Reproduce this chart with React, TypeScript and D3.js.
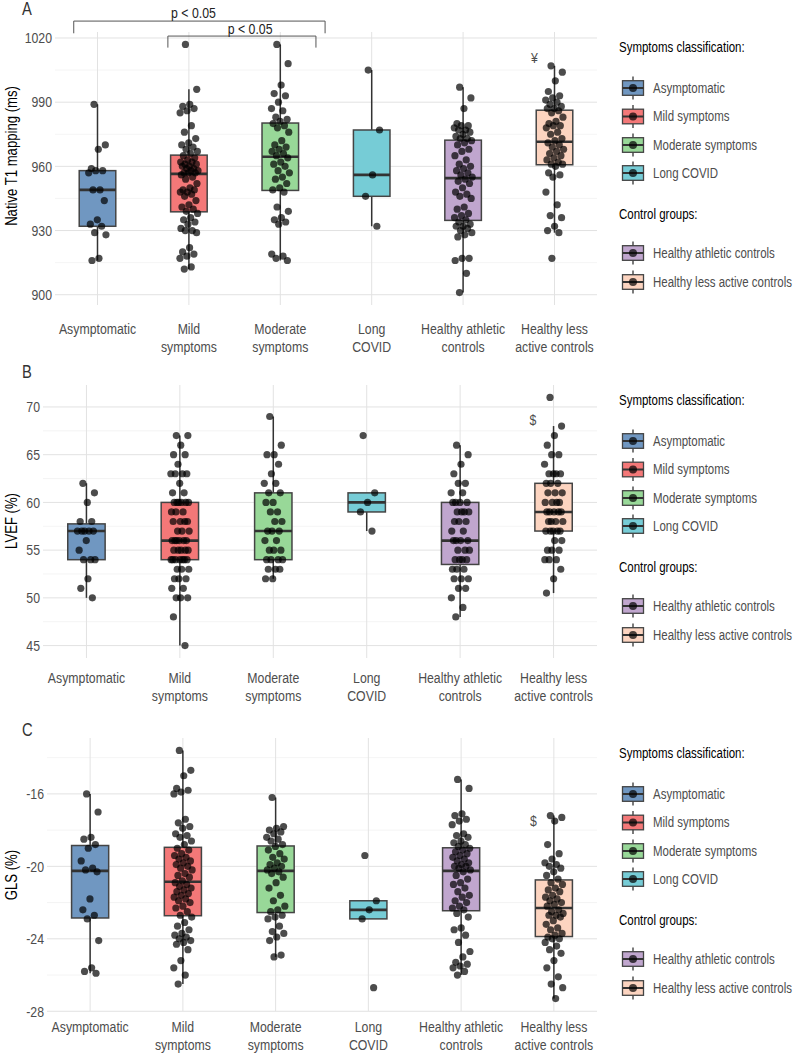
import React from "react";
import * as d3 from "d3";

// ---------- categories ----------
const groups = [
  "Asymptomatic",
  "Mild symptoms",
  "Moderate symptoms",
  "Long COVID",
  "Healthy athletic controls",
  "Healthy less active controls",
];
const groupAxisLines = [
  ["Asymptomatic"],
  ["Mild", "symptoms"],
  ["Moderate", "symptoms"],
  ["Long", "COVID"],
  ["Healthy athletic", "controls"],
  ["Healthy less", "active controls"],
];
const groupColors = ["#7097C1", "#F47878", "#98D898", "#76CCD6", "#C0A6CE", "#FCD4C0"];
const symptomGroups = [0, 1, 2, 3];
const controlGroups = [4, 5];

// ---------- Panel A: Native T1 mapping (ms) ----------
const t1Asymptomatic = [989, 970, 968, 959, 958, 958, 957, 949, 949, 944, 935, 933, 932, 929, 928, 917, 916];
const t1Mild = [1017, 996, 989, 988, 987, 986, 985, 979, 976, 973, 971, 970, 969, 968, 967, 966, 965, 964, 963, 962, 962, 961, 961, 960, 960, 959, 959, 958, 958, 957, 957, 957, 956, 955, 954, 952, 950, 949, 949, 948, 948, 947, 946, 944, 942, 941, 940, 939, 938, 936, 935, 934, 933, 931, 930, 930, 929, 922, 920, 919, 918, 917, 913, 912];
const t1Moderate = [1017, 1008, 998, 994, 993, 990, 987, 986, 983, 982, 981, 980, 979, 978, 976, 972, 970, 969, 968, 967, 966, 965, 964, 962, 961, 960, 958, 957, 955, 954, 952, 950, 949, 948, 941, 939, 936, 935, 934, 933, 919, 918, 917, 916];
const t1LongCovid = [1005, 977, 956, 946, 932];
const t1Athletic = [997, 992, 987, 980, 979, 979, 978, 977, 977, 976, 975, 974, 973, 973, 972, 971, 970, 968, 967, 965, 963, 961, 960, 959, 958, 957, 956, 955, 954, 953, 952, 950, 948, 947, 946, 945, 941, 940, 938, 937, 936, 935, 934, 933, 932, 932, 931, 930, 929, 928, 927, 917, 917, 916, 910, 901];
const t1LessActive = [1007, 1004, 1000, 995, 993, 992, 991, 990, 989, 988, 987, 987, 986, 985, 983, 981, 980, 979, 979, 978, 976, 975, 973, 972, 971, 970, 969, 968, 967, 966, 965, 964, 963, 962, 961, 961, 960, 957, 956, 955, 948, 942, 937, 936, 932, 930, 929, 917];
const t1Ticks = [900, 930, 960, 990, 1020];
const t1Minor = [915, 945, 975, 1005];

// ---------- Panel B: LVEF (%) ----------
const lvefAsymptomatic = [62, 61, 60, 58, 58, 57, 57, 57, 57, 57, 56, 55, 54, 54, 54, 52, 51, 50];
const lvefMild = [67, 67, 66, 65, 65, 64, 63, 63, 63, 63, 62, 61, 61, 60, 60, 60, 60, 60, 60, 59, 59, 59, 58, 58, 58, 58, 57, 57, 57, 56, 56, 56, 56, 56, 56, 55, 55, 55, 55, 55, 54, 54, 54, 54, 54, 54, 54, 53, 53, 53, 52, 52, 52, 51, 51, 50, 50, 50, 48, 45];
const lvefModerate = [69, 66, 65, 65, 64, 63, 62, 62, 61, 61, 60, 60, 59, 59, 58, 58, 57, 57, 57, 56, 56, 55, 55, 55, 54, 54, 54, 54, 53, 53, 53, 52, 52];
const lvefLongCovid = [67, 61, 60, 59, 57];
const lvefAthletic = [66, 65, 64, 63, 62, 62, 61, 61, 60, 60, 60, 60, 59, 59, 59, 59, 58, 58, 58, 57, 57, 56, 56, 56, 56, 55, 55, 55, 54, 54, 54, 54, 53, 53, 53, 52, 52, 52, 51, 51, 50, 49, 48];
const lvefLessActive = [71, 68, 67, 66, 65, 65, 64, 63, 63, 63, 63, 62, 62, 62, 61, 61, 61, 60, 60, 60, 60, 59, 59, 59, 59, 59, 58, 58, 58, 58, 57, 57, 57, 57, 57, 56, 56, 55, 55, 55, 54, 54, 54, 53, 52, 50.5];
const lvefTicks = [45, 50, 55, 60, 65, 70];
const lvefMinor = [47.5, 52.5, 57.5, 62.5, 67.5];

// ---------- Panel C: GLS (%) ----------
const glsAsymptomatic = [-16.0, -17.0, -18.4, -18.5, -18.8, -19.0, -19.7, -20.1, -20.2, -20.3, -21.8, -22.4, -22.7, -22.9, -24.1, -25.6, -25.8, -25.9];
const glsMild = [-13.6, -14.7, -15.0, -15.7, -15.8, -15.9, -16.0, -17.4, -17.6, -17.8, -17.9, -18.2, -18.3, -18.4, -18.6, -18.8, -19.0, -19.1, -19.3, -19.4, -19.5, -19.6, -19.7, -19.8, -19.9, -20.0, -20.1, -20.2, -20.4, -20.5, -20.6, -20.8, -20.9, -21.0, -21.1, -21.2, -21.3, -21.4, -21.5, -21.6, -21.7, -21.8, -21.9, -22.0, -22.2, -22.3, -22.5, -22.7, -22.8, -23.1, -23.3, -23.5, -23.7, -23.8, -23.9, -24.0, -24.1, -24.2, -24.3, -24.6, -25.2, -25.6, -26.0, -26.5];
const glsModerate = [-16.2, -17.8, -17.9, -18.0, -18.1, -18.2, -18.4, -18.5, -18.6, -18.8, -18.9, -19.1, -19.3, -19.5, -19.6, -19.8, -19.9, -20.0, -20.1, -20.2, -20.3, -20.4, -20.6, -20.9, -21.2, -21.6, -21.9, -22.2, -22.4, -22.5, -22.7, -22.8, -22.9, -23.3, -23.6, -23.7, -23.9, -24.1, -24.9, -25.0];
const glsLongCovid = [-19.4, -21.9, -22.4, -22.9, -26.7];
const glsAthletic = [-15.2, -15.7, -17.1, -17.2, -17.4, -17.5, -17.7, -18.2, -18.3, -18.4, -18.6, -18.7, -18.8, -18.9, -19.0, -19.1, -19.2, -19.3, -19.4, -19.5, -19.6, -19.7, -19.8, -19.9, -20.0, -20.0, -20.1, -20.2, -20.3, -20.5, -20.7, -20.9, -21.0, -21.2, -21.4, -21.6, -21.7, -21.9, -22.0, -22.2, -22.3, -22.4, -22.6, -22.8, -23.4, -23.5, -23.8, -24.2, -24.7, -25.0, -25.3, -25.4, -25.5, -25.6, -25.8, -26.0];
const glsLessActive = [-17.2, -17.3, -17.5, -18.8, -19.3, -19.6, -19.8, -19.9, -20.0, -20.1, -20.3, -20.5, -20.7, -20.9, -21.0, -21.2, -21.3, -21.4, -21.6, -21.7, -21.8, -21.9, -22.0, -22.1, -22.2, -22.4, -22.5, -22.6, -22.7, -22.7, -22.8, -23.0, -23.2, -23.4, -23.5, -23.7, -23.8, -23.9, -24.0, -24.0, -24.2, -24.4, -24.6, -24.8, -25.2, -25.6, -26.1, -26.5, -26.7, -27.3];
const glsTicks = [-28, -24, -20, -16];
const glsMinor = [-26, -22, -18, -14];

// ---------- annotations ----------
const bracketLabels = ["p < 0.05", "p < 0.05"];
const bracketFrom = [-0.26, 0.77]; // category index units
const bracketTo = [2.49, 2.39];
const bracketTop = [1027.9, 1020.9];
const bracketLeg = [1022.2, 1015.5];
const bracketTextX = [1.05, 1.67];
const bracketTextY = [1031.8, 1024.1];
const markSymbols = ["¥", "$", "$"];
const markX = [4.78, 4.78, 4.78];
const markY = [1010.9, 68.7, -17.5];

const FONT = "'Liberation Sans', Arial, sans-serif";
const NARROW = 0.82;
const TEXT_GRAY = "#4d4d4d";
const PANEL_RIGHT = 597;
const PANEL_H = 273;

const panels = [
  { letter: "A", title: "Native T1 mapping (ms)", data: [t1Asymptomatic, t1Mild, t1Moderate, t1LongCovid, t1Athletic, t1LessActive], ticks: t1Ticks, minor: t1Minor, top: 32, left: 55, letterY: 9, labelGap: 24, titleY: 156 },
  { letter: "B", title: "LVEF (%)", data: [lvefAsymptomatic, lvefMild, lvefModerate, lvefLongCovid, lvefAthletic, lvefLessActive], ticks: lvefTicks, minor: lvefMinor, top: 385, left: 43, letterY: 372, labelGap: 20, titleY: 521 },
  { letter: "C", title: "GLS (%)", data: [glsAsymptomatic, glsMild, glsModerate, glsLongCovid, glsAthletic, glsLessActive], ticks: glsTicks, minor: glsMinor, top: 738, left: 47, letterY: 730, labelGap: 16, titleY: 875 },
];

// condensed text: Liberation Sans squeezed horizontally
function T({ x, y, anchor = "start", size = 14, fill = TEXT_GRAY, rotate = 0, children }: any) {
  return (
    <g transform={`translate(${x},${y}) rotate(${rotate}) scale(${NARROW},1)`}>
      <text textAnchor={anchor} dy="0.35em" fontSize={size} fill={fill} fontFamily={FONT}>
        {children}
      </text>
    </g>
  );
}

function jitter(i: number) {
  const f = (i * 0.6180339887 + 0.31) % 1;
  return f * 2 - 1;
}

function boxStats(values: number[]) {
  const s = [...values].sort(d3.ascending);
  const q1 = d3.quantile(s, 0.25)!;
  const med = d3.quantile(s, 0.5)!;
  const q3 = d3.quantile(s, 0.75)!;
  const iqr = q3 - q1;
  const lo = d3.min(s.filter((v) => v >= q1 - 1.5 * iqr))!;
  const hi = d3.max(s.filter((v) => v <= q3 + 1.5 * iqr))!;
  return { q1, med, q3, lo: Math.min(lo, q1), hi: Math.max(hi, q3) };
}

function Panel({ cfg, index }: { cfg: any; index: number }) {
  const x = d3.scalePoint<string>().domain(groups).range([cfg.left, PANEL_RIGHT]).padding(0.465);
  const step = x.step();
  const xi = (u: number) => (x(groups[0]) as number) + u * step;
  const all = (cfg.data as number[][]).flat();
  const [mn, mx] = d3.extent(all) as [number, number];
  const pad = (mx - mn) * 0.05;
  const y = d3.scaleLinear().domain([mn - pad, mx + pad]).range([cfg.top + PANEL_H, cfg.top]);
  const bottom = cfg.top + PANEL_H;
  const bw = step * 0.4;
  const midY = cfg.top + PANEL_H / 2;

  return (
    <g>
      <T x={22} y={cfg.letterY} size={18} fill="#333">{cfg.letter}</T>
      {/* grid */}
      {(cfg.minor as number[]).map((t) => (
        <line key={"mi" + t} x1={cfg.left} x2={PANEL_RIGHT} y1={y(t)} y2={y(t)} stroke="#efefef" strokeWidth={0.7} />
      ))}
      {(cfg.ticks as number[]).map((t) => (
        <line key={"ma" + t} x1={cfg.left} x2={PANEL_RIGHT} y1={y(t)} y2={y(t)} stroke="#e2e2e2" strokeWidth={1} />
      ))}
      {groups.map((g) => (
        <line key={"v" + g} x1={x(g)} x2={x(g)} y1={cfg.top} y2={bottom} stroke="#e2e2e2" strokeWidth={1} />
      ))}
      {/* y tick labels */}
      {(cfg.ticks as number[]).map((t) => (
        <T key={"tl" + t} x={cfg.left - 3} y={y(t)} anchor="end" size={15}>{t}</T>
      ))}
      {/* y title */}
      <T x={11} y={cfg.titleY} anchor="middle" size={16} fill="#000" rotate={-90}>{cfg.title}</T>
      {/* x labels */}
      {groups.map((g, gi) =>
        groupAxisLines[gi].map((ln, li) => (
          <T key={"xl" + g + li} x={x(g)} y={bottom + cfg.labelGap + li * 18} anchor="middle" size={15}>{ln}</T>
        ))
      )}
      {/* boxes */}
      {(cfg.data as number[][]).map((vals, gi) => {
        const st = boxStats(vals);
        const cx = x(groups[gi]) as number;
        return (
          <g key={"b" + gi}>
            <line x1={cx} x2={cx} y1={y(st.hi)} y2={y(st.q3)} stroke="#333" strokeWidth={1.5} />
            <line x1={cx} x2={cx} y1={y(st.q1)} y2={y(st.lo)} stroke="#333" strokeWidth={1.5} />
            <rect x={cx - bw / 2} y={y(st.q3)} width={bw} height={y(st.q1) - y(st.q3)} fill={groupColors[gi]} stroke="#444" strokeWidth={1.5} />
            <line x1={cx - bw / 2} x2={cx + bw / 2} y1={y(st.med)} y2={y(st.med)} stroke="#333" strokeWidth={2.6} />
          </g>
        );
      })}
      {/* points */}
      {(cfg.data as number[][]).map((vals, gi) => {
        const cx = x(groups[gi]) as number;
        return vals.map((v, i) => (
          <circle key={"p" + gi + "-" + i} cx={cx + jitter(i) * step * 0.1} cy={y(v)} r={3.6} fill="#000" fillOpacity={0.7} />
        ));
      })}
      {/* marks */}
      <T x={xi(markX[index])} y={y(markY[index])} anchor="middle" size={15}>{markSymbols[index]}</T>
      {index === 0 &&
        bracketLabels.map((lb, bi) => (
          <g key={"br" + bi}>
            <path
              d={`M${xi(bracketFrom[bi])},${y(bracketLeg[bi])}V${y(bracketTop[bi])}H${xi(bracketTo[bi])}V${y(bracketLeg[bi])}`}
              fill="none"
              stroke="#555"
              strokeWidth={1}
            />
            <T x={xi(bracketTextX[bi])} y={y(bracketTextY[bi])} anchor="middle" size={15} fill="#222">{lb}</T>
          </g>
        ))}
      <Legend cy={midY} />
    </g>
  );
}

function LegendKey({ cy, color }: { cy: number; color: string }) {
  const cx = 633;
  return (
    <g>
      <line x1={cx} x2={cx} y1={cy - 11.5} y2={cy + 11.5} stroke="#333" strokeWidth={1.3} />
      <rect x={cx - 10.5} y={cy - 7.3} width={21} height={14.6} fill={color} stroke="#444" strokeWidth={1.3} />
      <line x1={cx - 10.5} x2={cx + 10.5} y1={cy} y2={cy} stroke="#333" strokeWidth={2} />
      <circle cx={cx} cy={cy} r={4} fill="#000" fillOpacity={0.7} />
    </g>
  );
}

function Legend({ cy }: { cy: number }) {
  const itemOffsets = [-80.5, -52, -23.5, 4.5];
  const ctrlOffsets = [84.5, 113.5];
  return (
    <g>
      <T x={619} y={cy - 121.5} size={14} fill="#000">Symptoms classification:</T>
      {symptomGroups.map((gi, k) => (
        <g key={"s" + gi}>
          <LegendKey cy={cy + itemOffsets[k]} color={groupColors[gi]} />
          <T x={653} y={cy + itemOffsets[k]} size={14}>{groups[gi]}</T>
        </g>
      ))}
      <T x={619} y={cy + 45.5} size={14} fill="#000">Control groups:</T>
      {controlGroups.map((gi, k) => (
        <g key={"c" + gi}>
          <LegendKey cy={cy + ctrlOffsets[k]} color={groupColors[gi]} />
          <T x={653} y={cy + ctrlOffsets[k]} size={14}>{groups[gi]}</T>
        </g>
      ))}
    </g>
  );
}

export default function App() {
  return (
    <svg width={796} height={1056} style={{ position: "absolute", left: 0, top: 0, background: "#fff" }}>
      <rect width={796} height={1056} fill="#fff" />
      {panels.map((p, i) => (
        <Panel key={p.letter} cfg={p} index={i} />
      ))}
    </svg>
  );
}
